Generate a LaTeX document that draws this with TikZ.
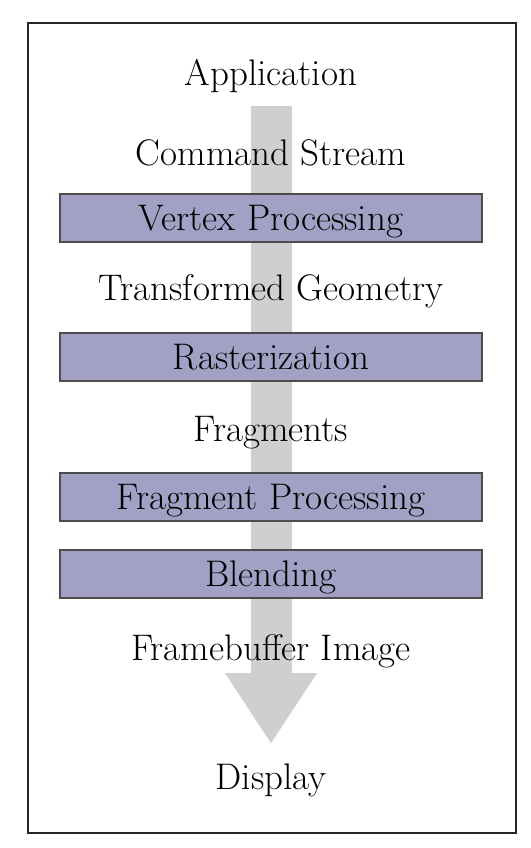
\documentclass[tikz,border=0pt]{standalone}
\usepackage{tikz}
\usetikzlibrary{arrows.meta}
\definecolor{stagefill}{RGB}{162,160,196}
\definecolor{flowgray}{RGB}{207,207,207}

\begin{document}
\begin{tikzpicture}[x=1pt, y=-1pt,
                datatext/.style={font=\fontsize{37}{42}\selectfont, anchor=base, inner sep=0pt},
                stage/.style={draw=black!70, line width=1.5pt, fill=stagefill,
                    minimum width=422pt, minimum height=48pt, inner sep=0pt,
                    text height=25pt, text depth=0pt, font=\fontsize{37}{42}\selectfont},
                flow/.style={flowgray, line width=41pt, -{Triangle[length=71pt, width=87pt]}}]
                \useasboundingbox (0, 0) rectangle (530, 848);
                \draw[line width=2pt, black!85] (28, 23) rectangle (516, 833);

                \coordinate (flowtop) at (271, 106);
                \coordinate (flowtip) at (271, 744);
                \draw[flow] (flowtop) -- (flowtip);

                \node[stage] (vertex) at (271, 218) {Vertex Processing};
                \node[stage] (raster) at (271, 357) {Rasterization};
                \node[stage] (fragproc) at (271, 497) {Fragment Processing};
                \node[stage] (blend) at (271, 574) {Blending};

                \node[datatext] (app) at (271, 86) {Application};
                \node[datatext] (cmd) at (271, 165) {Command Stream};
                \node[datatext] (geom) at (271, 300) {Transformed Geometry};
                \node[datatext] (frags) at (271, 441) {Fragments};
                \node[datatext] (fbimg) at (271, 660) {Framebuffer Image};
                \node[datatext] (display) at (271, 789) {Display};
            \end{tikzpicture}
\end{document}
